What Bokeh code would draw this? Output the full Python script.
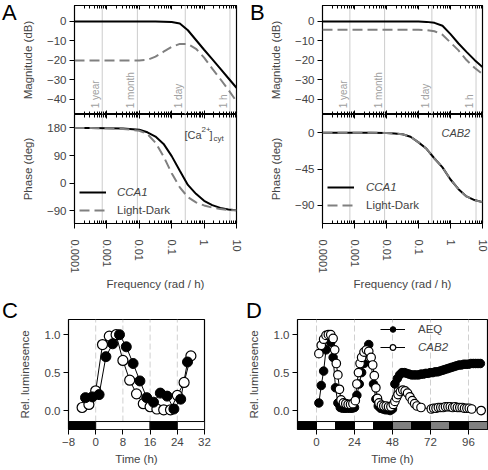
import math
from bokeh.plotting import figure
from bokeh.models import (Range1d, FixedTicker, LogAxis, LogTicker, Label, Legend, LegendItem,
                          CustomJSTickFormatter, Span, Div)
from bokeh.layouts import column, row
from bokeh.embed import file_html
from bokeh.resources import INLINE
from bokeh.core.properties import value

FONT = "Liberation Sans"
TICK_FS = "11.5px"
LAB_FS = "11.5px"
GRAY = "#808080"

# ---------------- data: Bode plots (frequency in rad/h) ----------------
freq = [1e-4, 3.16e-4, 1e-3, 3.16e-3, 1e-2, 1.78e-2, 3.16e-2, 5.62e-2, 0.1, 0.178,
        0.316, 0.562, 1.0, 1.78, 3.16, 5.62, 10.0]
a_mag_cca1 = [0, 0, 0, 0, 0, 0, 0, -0.1, -0.3, -1.0, -4.5, -9.5, -14.5, -19.3, -24.2, -29.1, -34]
a_mag_ld = [-20, -20, -20, -20, -20, -19.7, -18, -15.5, -13, -11.5, -11.5, -14, -18.5, -24.2, -29.5, -35, -41]
a_ph_cca1 = [180, 180, 179, 178, 174, 166, 152, 128, 88, 40, -6, -35, -58, -72, -81, -86, -89]
a_ph_ld = [180, 180, 179, 177, 171, 160, 132, 87, 32, -14, -46, -63, -73, -80, -85, -88, -89]
b_mag_cca1 = [0, 0, 0, 0, 0, 0, 0, 0, 0, -0.2, -0.7, -2.2, -6.5, -11.3, -15.6, -19.7, -23.4]
b_mag_ld = [-4.3, -4.3, -4.3, -4.3, -4.3, -4.3, -4.3, -4.3, -4.3, -4.4, -5, -6.8, -10.8, -14.8, -19.8, -23.7, -27]
b_ph_cca1 = [0, 0, 0, 0, -0.5, -1, -2, -5, -12, -20, -32, -43, -58, -70, -79, -83.5, -86]
b_ph_ld = [0, 0, 0, 0, -0.5, -1, -2, -5, -12, -20, -32, -43, -58, -70, -79, -83.5, -86]

period_freqs = [7.17e-4, 8.73e-3, 0.262, 6.28]
period_labels = ["1 year", "1 month", "1 day", "1 h"]

mag_ticks = [0, -10, -20, -30, -40]
a_ph_ticks = [180, 90, 0, -90]
b_ph_ticks = [0, -45, -90]

# ---------------- data: time courses ----------------
c_cab_t = [-4, -2, 0, 2, 4, 6, 8, 10, 12, 14, 16, 18, 20, 22, 24, 26, 28]
c_cab_v = [0.04, 0.08, 0.26, 0.87, 0.98, 1.0, 0.66, 0.4, 0.22, 0.09, 0.05, 0.02, 0.01, 0.01, 0.2, 0.37, 0.72]
c_aeq_t = [-3, -1, 1, 3, 5, 7, 9, 11, 13, 15, 17, 19, 21, 23, 25, 27]
c_aeq_v = [0.17, 0.18, 0.21, 0.71, 0.88, 1.0, 0.84, 0.62, 0.39, 0.17, 0.11, 0.23, 0.19, 0.02, 0.15, 0.64]
c_bar_start = [-8, 0, 16, 24]
c_bar_end = [0, 16, 24, 32]
c_bar_col = ["black", "white", "black", "white"]
c_lines = [0, 8, 16, 24]
c_xticks = [-8, 0, 8, 16, 24, 32]

d_cab_t = [1.5, 3, 4.5, 6, 7.5, 9, 10.5, 11.5, 12.5, 13.5, 14.5, 15.5, 17, 18.5, 20, 21.5, 23,
           24.5, 25.5, 26.5, 27.5, 28.5, 30, 31.5, 33, 34.5, 35.5, 36.5, 37.5, 38.5, 39.5,
           41, 42.5, 44, 45.5, 47, 48.5, 49.5, 50.5, 51.5, 53, 54.5, 56, 57.5, 59, 60.5, 62,
           63.5, 66, 72.5, 74, 75.5, 77, 78.5, 80, 81.5, 83, 84.5, 86, 87.5, 89, 90.5, 92,
           93.5, 95, 96.5, 98, 104]
d_cab_v = [0.75, 0.86, 0.94, 0.99, 1.0, 1.0, 0.95, 0.8, 0.62, 0.47, 0.28, 0.14, 0.1, 0.09, 0.08,
           0.08, 0.09, 0.13, 0.35, 0.5, 0.62, 0.7, 0.77, 0.8, 0.78, 0.7, 0.6, 0.46, 0.3, 0.16, 0.1,
           0.07, 0.06, 0.06, 0.05, 0.05, 0.08, 0.12, 0.17, 0.21, 0.25, 0.27, 0.26, 0.23, 0.18,
           0.13, 0.09, 0.06, 0.04, 0.02, 0.03, 0.03, 0.04, 0.04, 0.04, 0.05, 0.05, 0.05, 0.04,
           0.05, 0.04, 0.04, 0.04, 0.03, 0.03, 0.03, 0.02, 0.0]
d_aeq_t = [1.5, 3, 4.5, 6, 7.5, 9, 10.5, 12, 13.5, 15, 16.5, 18, 19.5, 21, 22.5, 24, 25.5, 27,
           28.5, 30, 31.5, 33, 34.5, 36, 37.5, 39, 40.5, 42, 43.5, 45, 46.5, 48, 49.5, 51, 52.5,
           54, 55.5, 57, 58.5, 60, 61.5, 63, 64.5, 66, 67.5, 69, 70.5, 72, 73.5, 75, 76.5, 78,
           79.5, 81, 82.5, 84, 85.5, 87, 88.5, 90, 91.5, 93, 94.5, 96, 97.5, 99, 100.5, 102, 103.5]
d_aeq_v = [0.1, 0.33, 0.52, 0.8, 0.95, 0.9, 0.7, 0.3, 0.1, 0.04, 0.03, 0.03, 0.03, 0.03, 0.03,
           0.04, 0.2, 0.35, 0.5, 0.62, 0.75, 0.87, 0.62, 0.35, 0.15, 0.06, 0.03, 0.02, 0.01, 0.01,
           0.0, 0.02, 0.35, 0.42, 0.47, 0.5, 0.5, 0.49, 0.48, 0.47, 0.47, 0.47, 0.47, 0.48, 0.48,
           0.49, 0.49, 0.5, 0.5, 0.51, 0.51, 0.52, 0.53, 0.54, 0.55, 0.56, 0.57, 0.58, 0.59, 0.6,
           0.6, 0.61, 0.61, 0.61, 0.62, 0.62, 0.62, 0.62, 0.62]
d_bar_start = [-12, 0, 12, 24, 36, 48, 60, 72, 84, 96]
d_bar_end = [0, 12, 24, 36, 48, 60, 72, 84, 96, 108]
d_bar_col = ["black", "white", "black", "white", "black", GRAY, "black", GRAY, "black", GRAY]
d_lines = [0, 24, 48, 72, 96]
d_xticks = [0, 24, 48, 72, 96]
lum_ticks = [0.0, 0.5, 1.0]


def style_y(p, ticks, label, standoff=10):
    ax = p.yaxis[0]
    ax.ticker = FixedTicker(ticks=ticks)
    ax.major_tick_out = 5
    ax.major_tick_in = 0
    ax.minor_tick_out = 0
    ax.minor_tick_in = 0
    ax.axis_line_color = None
    ax.major_label_text_font = FONT
    ax.major_label_text_font_size = TICK_FS
    ax.major_label_standoff = 3
    ax.axis_label = label
    ax.axis_label_text_font = FONT
    ax.axis_label_text_font_size = LAB_FS
    ax.axis_label_text_font_style = "normal"
    ax.axis_label_standoff = standoff


def inner_log_axis(ax):
    ax.ticker = LogTicker(num_minor_ticks=10)
    ax.major_label_text_font_size = "1px"
    ax.major_label_text_alpha = 0
    ax.major_label_standoff = 0
    ax.major_tick_out = 0
    ax.major_tick_in = 4
    ax.minor_tick_out = 0
    ax.minor_tick_in = 3
    ax.axis_line_color = None


def base_fig(fw, fh, bl, br, bt, bb, xr, yr, log=False):
    p = figure(frame_width=fw, frame_height=fh, x_range=xr, y_range=yr,
               x_axis_type="log" if log else "linear",
               output_backend="svg", toolbar_location=None,
               min_border_left=bl, min_border_right=br, min_border_top=bt, min_border_bottom=bb)
    p.grid.visible = False
    p.outline_line_color = "black"
    p.outline_line_width = 1.2
    p.background_fill_color = "white"
    return p


def letter_div(txt, w, h, line_h, pad_left=2):
    return Div(text=txt, width=w, height=h, margin=(0, 0, 0, 0),
               styles={"font-family": FONT, "font-size": "22px", "line-height": f"{line_h}px",
                       "padding-left": f"{pad_left}px", "color": "black"})


def period_lines(p):
    for f in period_freqs:
        p.add_layout(Span(location=f, dimension="height", line_color="#cccccc",
                          line_width=1, level="underlay"))


def bode(mag1, mag2, ph1, ph2, ph_ticks, ph_range, fw, bl, br, leg_y, leg_std):
    xr = Range1d(1e-4, 10)
    m = base_fig(fw, 109, bl, br, 5, 0, xr, Range1d(-47.7, 8.2), log=True)
    inner_log_axis(m.xaxis[0])
    top = LogAxis()
    inner_log_axis(top)
    m.add_layout(top, "above")
    style_y(m, mag_ticks, "Magnitude (dB)")
    period_lines(m)
    m.line(freq, mag1, line_color="black", line_width=2)
    m.line(freq, mag2, line_color=GRAY, line_width=2, line_dash="10 5")
    m.text(x=period_freqs, y=-44.5, text=period_labels, angle=math.pi / 2,
           text_align="left", text_baseline="bottom", text_color="#a0a0a0",
           text_font=value(FONT), text_font_size="10px", x_offset=-1)

    ph = base_fig(fw, 109, bl, br, 0, 77, xr, Range1d(*ph_range), log=True)
    top2 = LogAxis()
    inner_log_axis(top2)
    ph.add_layout(top2, "above")
    bx = ph.below[0]
    bx.ticker = LogTicker(num_minor_ticks=10)
    bx.formatter = CustomJSTickFormatter(code="return Number(tick.toPrecision(2)).toString();")
    bx.major_label_orientation = "vertical"
    bx.major_tick_out = 5
    bx.major_tick_in = 0
    bx.minor_tick_out = 0
    bx.minor_tick_in = 3
    bx.axis_line_color = None
    bx.major_label_text_font = FONT
    bx.major_label_text_font_size = "11px"
    bx.major_label_standoff = 11
    bx.axis_label = "Frequency (rad / h)"
    bx.axis_label_text_font = FONT
    bx.axis_label_text_font_size = LAB_FS
    bx.axis_label_text_font_style = "normal"
    bx.axis_label_standoff = 2
    style_y(ph, ph_ticks, "Phase (deg)")
    period_lines(ph)
    r1 = ph.line(freq, ph1, line_color="black", line_width=2)
    r2 = ph.line(freq, ph2, line_color=GRAY, line_width=2, line_dash="10 5")
    for lab, r, loc, style in [("CCA1", r1, (5, leg_y[0]), "italic"),
                               ("Light-Dark", r2, (5, leg_y[1]), "normal")]:
        lg = Legend(items=[LegendItem(label=lab, renderers=[r])], location=loc,
                    border_line_color=None, background_fill_alpha=0, padding=0, margin=0,
                    spacing=0, glyph_width=27, glyph_height=14, label_height=14,
                    label_standoff=leg_std, label_text_font=FONT, label_text_font_size=LAB_FS,
                    label_text_font_style=style)
        ph.add_layout(lg)
    return m, ph


am, aph = bode(a_mag_cca1, a_mag_ld, a_ph_cca1, a_ph_ld, a_ph_ticks, (-132, 224), 162, 52, 12, (24, 6), 11)
bm, bph = bode(b_mag_cca1, b_mag_ld, b_ph_cca1, b_ph_ld, b_ph_ticks, (-112.5, 22.5), 160, 56, 10, (29, 11), 12)

# [Ca2+]cyt annotation
for txt, x, y, fs in [("[Ca", 110, 89, "11px"), ("2+", 127, 94, "8px"), ("]", 135, 89, "11px"),
                      ("cyt", 139, 85.5, "8px")]:
    aph.add_layout(Label(x=x, y=y, x_units="screen", y_units="screen", text=txt,
                         text_font=FONT, text_font_size=fs, text_baseline="alphabetic"))
bph.add_layout(Label(x=119, y=91, x_units="screen", y_units="screen", text="CAB2",
                     text_font=FONT, text_font_size="11px", text_font_style="italic",
                     text_baseline="alphabetic"))


def timecourse(fw, bl, br, xr, xticks, bar_s, bar_e, bar_c, vlines, aeq_t, aeq_v, cab_t, cab_v,
               size, legend=False, open_on_top=False):
    p = base_fig(fw, 110, bl, br, 1, 41, xr, Range1d(-0.25, 1.2))
    p.segment(x0=vlines, y0=-0.145, x1=vlines, y1=1.2, line_color="#d0d0d0",
              line_dash="6 3", line_width=1)
    p.quad(left=bar_s, right=bar_e, bottom=-0.25, top=-0.145, fill_color=bar_c,
           line_color="black", line_width=1)
    la = p.line(aeq_t, aeq_v, line_color="black", line_width=1)
    lc = p.line(cab_t, cab_v, line_color="black", line_width=1)
    if open_on_top:
        sa = p.scatter(aeq_t, aeq_v, size=size, fill_color="black", line_color="black")
        sc = p.scatter(cab_t, cab_v, size=size, fill_color="white", line_color="black", line_width=1.2)
    else:
        sc = p.scatter(cab_t, cab_v, size=size, fill_color="white", line_color="black", line_width=1.2)
        sa = p.scatter(aeq_t, aeq_v, size=size, fill_color="black", line_color="black")
    ax = p.xaxis[0]
    ax.ticker = FixedTicker(ticks=xticks)
    ax.major_tick_out = 5
    ax.major_tick_in = 0
    ax.minor_tick_out = 0
    ax.axis_line_color = None
    ax.major_label_text_font = FONT
    ax.major_label_text_font_size = TICK_FS
    ax.major_label_standoff = 3
    ax.axis_label = "Time (h)"
    ax.axis_label_text_font = FONT
    ax.axis_label_text_font_size = LAB_FS
    ax.axis_label_text_font_style = "normal"
    ax.axis_label_standoff = 4
    style_y(p, lum_ticks, "Rel. luminesence", standoff=11)
    p.yaxis[0].major_label_overrides = {0.0: "0.0", 0.5: "0.5", 1.0: "1.0"}
    if legend:
        for lab, rs, loc, style in [("AEQ", [la, sa], (83, 93), "normal"),
                                    ("CAB2", [lc, sc], (83, 75), "italic")]:
            lg = Legend(items=[LegendItem(label=lab, renderers=rs)], location=loc,
                        border_line_color=None, background_fill_alpha=0, padding=0, margin=0,
                        spacing=0, glyph_width=25, glyph_height=14, label_height=14,
                        label_standoff=13, label_text_font=FONT, label_text_font_size=LAB_FS,
                        label_text_font_style=style)
            p.add_layout(lg)
    return p


cp = timecourse(136, 68, 40, Range1d(-8, 32), c_xticks, c_bar_start, c_bar_end, c_bar_col,
                c_lines, c_aeq_t, c_aeq_v, c_cab_t, c_cab_v, 10)
dp = timecourse(190, 47, 7, Range1d(-12, 108), d_xticks, d_bar_start, d_bar_end, d_bar_col,
                d_lines, d_aeq_t, d_aeq_v, d_cab_t, d_cab_v, 8.5, legend=True, open_on_top=True)

top_row = row(letter_div("A", 18, 26, 25), column(am, aph),
              letter_div("B", 18, 26, 25), column(bm, bph))
letters_cd = row(letter_div("C", 244, 18, 22), letter_div("D", 244, 18, 22))
layout = column(top_row, letters_cd, row(cp, dp))
open("out.html", "w").write(file_html(layout, INLINE))
